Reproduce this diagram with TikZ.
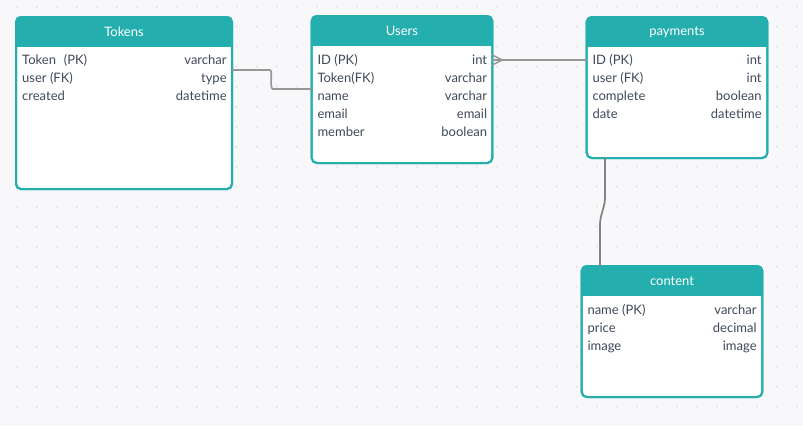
\documentclass[tikz,border=0pt]{standalone}
\usepackage{fontspec}
\setmainfont{Lato}
\usetikzlibrary{calc}
\definecolor{bg}{HTML}{F8F8FA}
\definecolor{dotc}{HTML}{DCDCE2}
\definecolor{teal1}{HTML}{24AFAE}
\definecolor{txt}{HTML}{3F4A5A}
\definecolor{lnc}{HTML}{979797}
\tikzset{
  tbl/.style={draw=teal1, line width=2pt, fill=white, rounded corners=5pt, inner sep=0pt, outer sep=0pt, anchor=north west},
  titletxt/.style={text=white, font=\fontsize{13}{15}\selectfont, inner sep=0pt},
  rowl/.style={text=txt, font=\fontsize{13}{15}\selectfont, inner sep=0pt, anchor=base west},
  rowr/.style={text=txt, font=\fontsize{13}{15}\selectfont, inner sep=0pt, anchor=base east},
  conn/.style={draw=lnc, line width=1.7pt, rounded corners=4pt},
}
\newcommand\ertable[6]{%
  \node[tbl, minimum width=#4pt, minimum height=#5pt] (#1) at (#2,#3) {};
  \begin{scope}
    \clip[rounded corners=5pt] (#1.north west) rectangle (#1.south east);
    \fill[teal1] (#1.north west) rectangle ([yshift=-29.5pt]#1.north east);
  \end{scope}
  \draw[draw=teal1, line width=2pt, rounded corners=5pt] (#1.north west) rectangle (#1.south east);
  \node[titletxt] (#1-t) at ([yshift=-15pt]#1.north) {#6};
}
\begin{document}
\begin{tikzpicture}[x=1pt,y=-1pt]
\fill[bg] (0,0) rectangle (803,426);
\useasboundingbox (0,0) rectangle (803,426);
\foreach \i in {0,...,39}{
  \foreach \j in {0,...,20}{
    \fill[dotc] ({16.7+20*\i},{6.7+20*\j}) circle (1pt);
  }
}
% tables
\ertable{tok}{16}{17}{216}{172}{Tokens}
\ertable{usr}{311.7}{16}{180.6}{147}{Users}
\ertable{pay}{586.7}{17}{180.6}{141}{payments}
\ertable{cnt}{581.7}{266}{180.6}{131}{content}

% connectors
\draw[conn] ([yshift=-53pt]tok.north east) -- (266,70) .. controls (273,70) and (269,89) .. (277,89) -- ([yshift=-73pt]usr.north west);
\draw[conn, rounded corners=0pt] ([yshift=-44pt]usr.north east) -- ([yshift=-43pt]pay.north west);
\draw[draw=lnc, line width=1.5pt] ([yshift=-39pt]usr.north east) -- ([xshift=10pt,yshift=-44pt]usr.north east) -- ([yshift=-49pt]usr.north east);
\draw[conn, draw={rgb,255:red,130;green,130;blue,130}] ([xshift=18.3pt]pay.south west) -- (605,202) -- (600,220) -- ([xshift=18.3pt]cnt.north west);

% Tokens rows
\node[rowl] (tok-l1) at (22,64.5) {Token\hspace{0.6em}(PK)};
\node[rowl] (tok-l2) at (22,82.5) {user (FK)};
\node[rowl] (tok-l3) at (22,100.5) {created};
\node[rowr] (tok-r1) at (226.8,64.5) {varchar};
\node[rowr] (tok-r2) at (226.8,82.5) {type};
\node[rowr] (tok-r3) at (226.8,100.5) {datetime};

% Users rows
\node[rowl] (usr-l1) at (317.3,64) {ID (PK)};
\node[rowl] (usr-l2) at (317.3,82) {Token(FK)};
\node[rowl] (usr-l3) at (317.3,100) {name};
\node[rowl] (usr-l4) at (317.3,118) {email};
\node[rowl] (usr-l5) at (317.3,136) {member};
\node[rowr] (usr-r1) at (487.3,64) {int};
\node[rowr] (usr-r2) at (487.3,82) {varchar};
\node[rowr] (usr-r3) at (487.3,100) {varchar};
\node[rowr] (usr-r4) at (487.3,118) {email};
\node[rowr] (usr-r5) at (487.3,136) {boolean};

% payments rows
\node[rowl] (pay-l1) at (592.3,64.5) {ID (PK)};
\node[rowl] (pay-l2) at (592.3,82.5) {user (FK)};
\node[rowl] (pay-l3) at (592.3,100.5) {complete};
\node[rowl] (pay-l4) at (592.3,118.5) {date};
\node[rowr] (pay-r1) at (761.8,64.5) {int};
\node[rowr] (pay-r2) at (761.8,82.5) {int};
\node[rowr] (pay-r3) at (761.8,100.5) {boolean};
\node[rowr] (pay-r4) at (761.8,118.5) {datetime};

% content rows
\node[rowl] (cnt-l1) at (587.3,314.5) {name (PK)};
\node[rowl] (cnt-l2) at (587.3,332.5) {price};
\node[rowl] (cnt-l3) at (587.3,350.5) {image};
\node[rowr] (cnt-r1) at (756.8,314.5) {varchar};
\node[rowr] (cnt-r2) at (756.8,332.5) {decimal};
\node[rowr] (cnt-r3) at (756.8,350.5) {image};
\end{tikzpicture}
\end{document}
